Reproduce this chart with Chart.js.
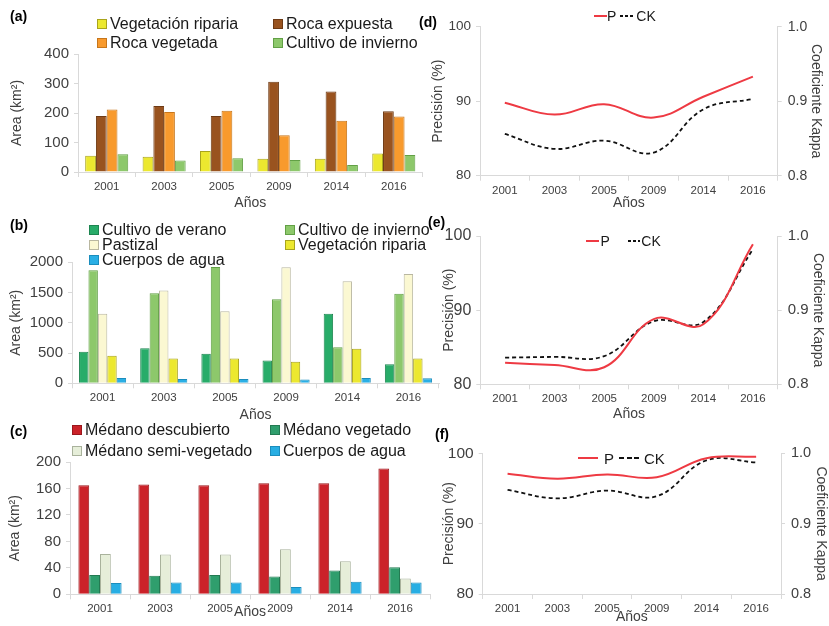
<!DOCTYPE html>
<html><head><meta charset="utf-8">
<script src="https://cdn.jsdelivr.net/npm/chart.js@4.4.1/dist/chart.umd.min.js"></script>
<style>
body{margin:0;width:829px;height:626px;overflow:hidden;background:#fff;position:relative;font-family:"Liberation Sans",Arial,sans-serif}
canvas{position:absolute}
.tag{position:absolute;font-weight:bold;font-size:14px;line-height:14px;color:#000}
.leg{position:absolute;display:grid;font-size:16px;color:#1a1a1a;white-space:nowrap}
.leg .item{display:flex;align-items:center}
.leg i{display:inline-block;width:8px;height:8px;margin-right:3px;border:1px solid}
.lleg{position:absolute;display:flex;align-items:center;height:16px;color:#1a1a1a;white-space:nowrap}
.lleg b{display:inline-block;height:2px}
</style></head><body>
<canvas id="cA" width="430" height="212" style="left:0;top:0"></canvas>
<canvas id="cB" width="445" height="219" style="left:0;top:205px"></canvas>
<canvas id="cC" width="440" height="211" style="left:0;top:410px"></canvas>
<canvas id="cD" width="419" height="212" style="left:410px;top:0"></canvas>
<canvas id="cE" width="419" height="208" style="left:410px;top:215px"></canvas>
<canvas id="cF" width="419" height="211" style="left:410px;top:415px"></canvas>

<div class="tag" style="left:10px;top:9px">(a)</div>
<div class="tag" style="left:10px;top:218px">(b)</div>
<div class="tag" style="left:10px;top:424px">(c)</div>
<div class="tag" style="left:419px;top:15px">(d)</div>
<div class="tag" style="left:428px;top:215px">(e)</div>
<div class="tag" style="left:435px;top:427px">(f)</div>

<div class="leg" id="legA" style="left:97px;top:14px;grid-template-columns:176px auto;grid-auto-rows:19px"></div>
<div class="leg" id="legB" style="left:89px;top:222px;grid-template-columns:196px auto;grid-auto-rows:15px"></div>
<div class="leg" id="legC" style="left:72px;top:419px;grid-template-columns:198px auto;grid-auto-rows:21.5px"></div>
<div class="lleg" id="legD" style="left:594px;top:8px;font-size:14px"></div>
<div class="lleg" id="legE" style="left:586px;top:233px;font-size:14px"></div>
<div class="lleg" id="legF" style="left:578px;top:450px;font-size:15px"></div>

<script>
const years = ['2001', '2003', '2005', '2009', '2014', '2016'];

// (a) km2
const aVegRiparia   = [55, 52, 71, 45, 45, 63];
const aRocaExpuesta = [190, 224, 190, 306, 273, 206];
const aRocaVegetada = [212, 203, 208, 125, 174, 188];
const aCultInvierno = [60, 39, 47, 41, 24, 58];

// (b) km2
const bCultVerano   = [523, 578, 490, 375, 1151, 314];
const bCultInvierno = [1868, 1488, 1923, 1388, 595, 1482];
const bPastizal     = [1151, 1532, 1190, 1917, 1686, 1807];
const bVegRiparia   = [457, 408, 408, 358, 573, 410];
const bCuerposAgua  = [88, 72, 72, 61, 88, 84];

// (c) km2
const cDescubierto = [165, 166, 165, 168, 168, 190];
const cVegetado    = [29, 28, 29, 27, 36, 41];
const cSemiVeg     = [61, 60, 60, 68, 50, 24];
const cAgua        = [17, 18, 18, 11, 19, 18];

// (d)-(f): P (%) and CK (kappa)
const dP  = [89.8, 88.2, 89.6, 87.8, 90.6, 93.3];
const dCK = [0.856, 0.836, 0.847, 0.831, 0.889, 0.903];
const eP  = [82.9, 82.6, 82.3, 88.8, 88.1, 98.9];
const eCK = [0.836, 0.837, 0.838, 0.885, 0.884, 0.982];
const fP  = [97.1, 96.4, 97.0, 96.6, 99.3, 99.5];
const fCK = [0.948, 0.936, 0.947, 0.939, 0.990, 0.987];

Chart.defaults.font.family = '"Liberation Sans", Arial, sans-serif';
Chart.defaults.color = '#404040';
Chart.defaults.animation = false;

const AXIS = '#d9d9d9';
const RED = '#ee3a43';

function barChart(id, series, yMax, yStep, area, catPct){
  const cv = document.getElementById(id);
  const W = cv.width, H = cv.height;
  return new Chart(cv, {
    type: 'bar',
    data: {
      labels: years,
      datasets: series.map(s => ({ label: s[0], data: s[1], backgroundColor: s[2], borderColor: s[3], borderWidth: 1, categoryPercentage: catPct, barPercentage: 1 }))
    },
    options: {
      responsive: false, devicePixelRatio: 1,
      layout: { padding: { left: 0, top: area.top, right: W - area.right, bottom: 0 } },
      plugins: { legend: { display: false }, tooltip: { enabled: false } },
      scales: {
        x: {
          grid: { drawOnChartArea: false, tickLength: 5, color: AXIS, offset: true },
          border: { color: AXIS },
          ticks: { font: { size: 11.5 }, padding: 3, maxRotation: 0 },
          title: { display: true, text: 'Años', font: { size: 14 }, padding: { top: 0, bottom: 0 } },
          afterFit: s => { s.height = H - area.bottom; }
        },
        y: {
          min: 0, max: yMax,
          ticks: { stepSize: yStep, font: { size: 15 }, padding: 5, callback: v => String(v) },
          grid: { drawOnChartArea: false, tickLength: 4, color: AXIS },
          border: { color: AXIS },
          title: { display: true, text: 'Area (km²)', font: { size: 14 }, padding: { top: area.tpad, bottom: 0 } },
          afterFit: s => { s.width = area.left; }
        }
      }
    }
  });
}

function lineChart(id, p, ck, area){
  const cv = document.getElementById(id);
  const W = cv.width, H = cv.height;
  return new Chart(cv, {
    type: 'line',
    data: {
      labels: years,
      datasets: [
        { label: 'P', data: p, yAxisID: 'y', borderColor: RED, borderWidth: 2, pointRadius: 0, tension: 0.4, fill: false },
        { label: 'CK', data: ck, yAxisID: 'y1', borderColor: '#111', borderWidth: 1.8, borderDash: [4, 3], pointRadius: 0, tension: 0.4, fill: false }
      ]
    },
    options: {
      responsive: false, devicePixelRatio: 1,
      layout: { padding: { left: 0, top: area.top, right: 0, bottom: 0 } },
      plugins: { legend: { display: false }, tooltip: { enabled: false } },
      scales: {
        x: {
          offset: true,
          grid: { drawOnChartArea: false, tickLength: 5, color: AXIS, offset: true },
          border: { color: AXIS },
          ticks: { font: { size: 11.5 }, padding: 3, maxRotation: 0 },
          title: { display: true, text: 'Años', font: { size: 14 }, padding: { top: 0, bottom: 0 } },
          afterFit: s => { s.height = H - area.bottom; }
        },
        y: {
          position: 'left', min: 80, max: 100,
          ticks: { stepSize: 10, font: { size: area.lf }, padding: 5 },
          grid: { drawOnChartArea: false, tickLength: 4, color: AXIS },
          border: { color: AXIS },
          title: { display: true, text: 'Precisión (%)', font: { size: 14 }, padding: { top: area.tpad, bottom: 0 } },
          afterFit: s => { s.width = area.left; }
        },
        y1: {
          position: 'right', min: 0.8, max: 1.0,
          ticks: { stepSize: 0.1, font: { size: area.rf }, padding: 6, callback: v => v.toFixed(1) },
          grid: { drawOnChartArea: false, tickLength: 4, color: AXIS },
          border: { color: AXIS },
          title: { display: true, text: 'Coeficiente Kappa', font: { size: 14 }, padding: { top: area.rpad, bottom: 0 } },
          afterFit: s => { s.width = W - area.right; }
        }
      }
    }
  });
}

function barLegend(id, chart){
  const box = document.getElementById(id);
  for(const ds of chart.data.datasets){
    const it = document.createElement('span');
    it.className = 'item';
    it.innerHTML = `<i style="background:${ds.backgroundColor};border-color:${ds.borderColor}"></i>${ds.label}`;
    box.appendChild(it);
  }
}

function lineLegend(id, chart, sw, g1, g2, g3, dash){
  const box = document.getElementById(id);
  const [p, ck] = chart.data.datasets;
  const dashBg = `repeating-linear-gradient(90deg, ${ck.borderColor} 0 ${dash[0]}px, transparent ${dash[0]}px ${dash[0] + dash[1]}px)`;
  box.innerHTML =
    `<b style="width:${sw}px;background:${p.borderColor}"></b><span style="margin-left:${g1}px">${p.label}</span>` +
    `<b style="width:${sw}px;margin-left:${g2}px;background:${dashBg}"></b><span style="margin-left:${g3}px">${ck.label}</span>`;
}

const chA = barChart('cA', [
  ['Vegetación riparia', aVegRiparia, '#ece82f', '#a9a41c'],
  ['Roca expuesta', aRocaExpuesta, '#99531f', '#6e3a14'],
  ['Roca vegetada', aRocaVegetada, '#f89a2d', '#c7761b'],
  ['Cultivo de invierno', aCultInvierno, '#8dc86b', '#62a046']
], 400, 100, { left: 78, top: 54, right: 422.5, bottom: 172, tpad: 8.6 }, 0.75);

const chB = barChart('cB', [
  ['Cultivo de verano', bCultVerano, '#28ac69', '#1d8550'],
  ['Cultivo de invierno', bCultInvierno, '#8dc86b', '#62a046'],
  ['Pastizal', bPastizal, '#fbf8d2', '#b9b7a0'],
  ['Vegetación riparia', bVegRiparia, '#ece82f', '#a9a41c'],
  ['Cuerpos de agua', bCuerposAgua, '#2aafe5', '#1b8dbd']
], 2000, 500, { left: 72, top: 57.3, right: 439, bottom: 178.3, tpad: 7.6 }, 0.77);

const chC = barChart('cC', [
  ['Médano descubierto', cDescubierto, '#cb2229', '#9a171c'],
  ['Médano vegetado', cVegetado, '#2f9e6d', '#237a52'],
  ['Médano semi-vegetado', cSemiVeg, '#e6eed9', '#a9b29c'],
  ['Cuerpos de agua', cAgua, '#28aee3', '#1b8dbd']
], 200, 40, { left: 70, top: 52, right: 430, bottom: 184.3, tpad: 6.6 }, 0.72);

const chD = lineChart('cD', dP, dCK, { left: 70, top: 26.7, right: 367.7, bottom: 175.7, tpad: 19.6, rpad: 4.6, lf: 13.5, rf: 14 });
const chE = lineChart('cE', eP, eCK, { left: 70.3, top: 21, right: 367.7, bottom: 169.3, tpad: 30.6, rpad: 2.6, lf: 16, rf: 15 });
const chF = lineChart('cF', fP, fCK, { left: 72.7, top: 38.3, right: 371, bottom: 179, tpad: 30.6, rpad: 0, lf: 15.5, rf: 14.5 });

barLegend('legA', chA);
barLegend('legB', chB);
barLegend('legC', chC);
lineLegend('legD', chD, 13, 0, 4, 3, [3, 2]);
lineLegend('legE', chE, 12.5, 2, 18, 1, [3, 2]);
lineLegend('legF', chF, 20, 6, 5, 5, [5, 2.5]);
</script>
</body></html>
